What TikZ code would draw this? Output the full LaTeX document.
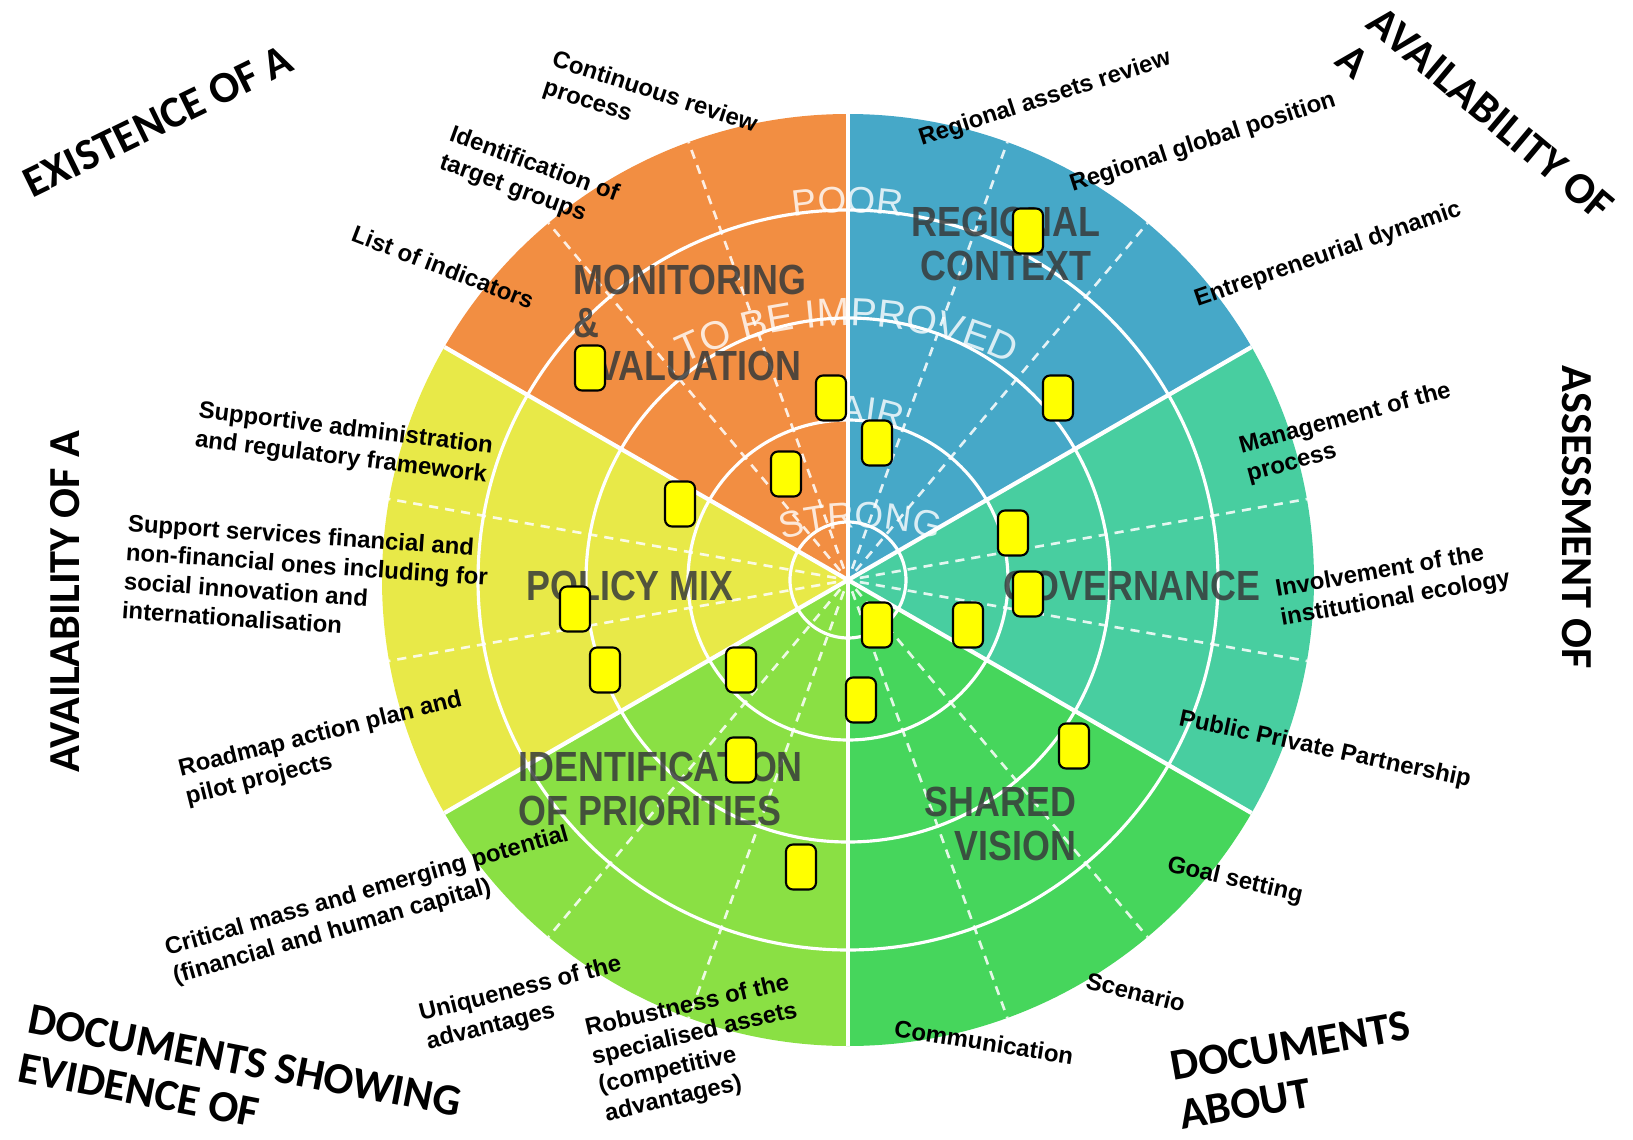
\documentclass[tikz,border=0pt]{standalone}
\usepackage{fontspec}
\setmainfont{Liberation Sans}
\newfontfamily\capsfont{Carlito}
\newfontfamily\pillarfont[FakeStretch=0.85]{Liberation Sans}
\usepackage{tikz}
\usetikzlibrary{decorations.text}

\definecolor{monOrange}{RGB}{242,142,66}
\definecolor{regBlue}{RGB}{70,168,200}
\definecolor{govTeal}{RGB}{72,206,160}
\definecolor{visGreen}{RGB}{70,214,92}
\definecolor{prioGreen}{RGB}{138,224,68}
\definecolor{polYellow}{RGB}{232,233,72}
\definecolor{scoreYellow}{RGB}{255,255,0}
\definecolor{pillarGray}{RGB}{55,58,58}

\tikzset{
  itemlbl/.style={font=\bfseries\fontsize{6.8}{8.3}\selectfont,inner sep=0pt,align=left},
  cornerlbl/.style={font=\capsfont\bfseries\fontsize{12.6}{14}\selectfont,inner sep=0pt,align=left},
  pillarlbl/.style={font=\pillarfont\bfseries\fontsize{12}{12.3}\selectfont,text=pillarGray,text opacity=0.85,inner sep=0pt},
  scorebox/.style={draw=black,line width=0.6pt,fill=scoreYellow,rounded corners=2pt,minimum width=0.3cm,minimum height=0.45cm,inner sep=0pt},
  ringline/.style={draw=white,line width=0.9pt},
  sectorline/.style={draw=white,line width=1.2pt},
  subline/.style={draw=white,line width=0.75pt,dash pattern=on 2.6pt off 2pt},
  ringword/.style={decorate,decoration={text along path,text align=center,text color=white,text={#1}}}
}

\begin{document}
\begin{tikzpicture}
      \useasboundingbox (0,0) rectangle (16.33,11.39);
      \coordinate (hub) at (8.48,5.59);
      \coordinate (bow) at (8.60,3.38);
      \coordinate (arch) at (8.47,4.39);

      \fill[monOrange] (hub) -- ++(90:4.66) arc[start angle=90,end angle=150,radius=4.66] -- cycle;
      \fill[polYellow] (hub) -- ++(150:4.66) arc[start angle=150,end angle=210,radius=4.66] -- cycle;
      \fill[prioGreen] (hub) -- ++(210:4.66) arc[start angle=210,end angle=270,radius=4.66] -- cycle;
      \fill[visGreen] (hub) -- ++(270:4.66) arc[start angle=270,end angle=330,radius=4.66] -- cycle;
      \fill[govTeal] (hub) -- ++(-30:4.66) arc[start angle=-30,end angle=30,radius=4.66] -- cycle;
      \fill[regBlue] (hub) -- ++(30:4.66) arc[start angle=30,end angle=90,radius=4.66] -- cycle;

      \begin{scope}[opacity=0.85]
        \draw[subline] (hub) ++(10:0.12) -- ++(10:4.54);    \draw[subline] (hub) ++(-10:0.12) -- ++(-10:4.54);
        \draw[subline] (hub) ++(50:0.12) -- ++(50:4.54);    \draw[subline] (hub) ++(70:0.12) -- ++(70:4.54);
        \draw[subline] (hub) ++(110:0.12) -- ++(110:4.54);  \draw[subline] (hub) ++(130:0.12) -- ++(130:4.54);
        \draw[subline] (hub) ++(170:0.12) -- ++(170:4.54);  \draw[subline] (hub) ++(190:0.12) -- ++(190:4.54);
        \draw[subline] (hub) ++(230:0.12) -- ++(230:4.54);  \draw[subline] (hub) ++(250:0.12) -- ++(250:4.54);
        \draw[subline] (hub) ++(290:0.12) -- ++(290:4.54);  \draw[subline] (hub) ++(310:0.12) -- ++(310:4.54);
      \end{scope}

      \draw[ringline] (hub) circle[radius=0.58];
      \draw[ringline] (hub) circle[radius=1.60];
      \draw[ringline] (hub) circle[radius=2.62];
      \draw[ringline] (hub) circle[radius=3.70];

      \draw[sectorline] (hub) -- ++(30:4.66);   \draw[sectorline] (hub) -- ++(90:4.66);
      \draw[sectorline] (hub) -- ++(150:4.66);  \draw[sectorline] (hub) -- ++(210:4.66);
      \draw[sectorline] (hub) -- ++(270:4.66);  \draw[sectorline] (hub) -- ++(330:4.66);

      \begin{scope}[opacity=0.8]
        \path[ringword={|\fontsize{10.5}{10.5}\selectfont|POOR}] ([shift={(110:3.67)}]hub) arc[start angle=110,end angle=70,radius=3.67];
        \path[ringword={|\fontsize{11.2}{11.2}\selectfont|TO BE IMPROVED}] ([shift={(125:3.74)}]arch) arc[start angle=125,end angle=55,radius=3.74];
        \path[ringword={|\fontsize{10.5}{10.5}\selectfont|FAIR}] ([shift={(126:1.58)}]hub) arc[start angle=126,end angle=46,radius=1.58];
        \path[ringword={|\fontsize{10.5}{10.5}\selectfont|STRONG}] ([shift={(112:2.73)}]bow) arc[start angle=112,end angle=68,radius=2.73];
      \end{scope}

      \node[pillarlbl,anchor=west,align=left] (monTitle) at (5.73,8.16) {MONITORING\\\&\\EVALUATION};
      \node[pillarlbl,align=center] (regTitle) at (10.06,8.95) {REGIONAL\\CONTEXT};
      \node[pillarlbl] (govTitle) at (11.32,5.53) {GOVERNANCE};
      \node[pillarlbl] (polTitle) at (6.30,5.53) {POLICY MIX};
      \node[pillarlbl,anchor=west,align=left] (prioTitle) at (5.18,3.50) {IDENTIFICATION\\OF PRIORITIES};
      \node[pillarlbl,anchor=east,align=right] (visTitle) at (10.77,3.15) {SHARED\\VISION};

      \begin{scope}[every node/.style=scorebox]
        \node (s1)  at (10.28,9.08) {};
        \node (s2)  at (5.90,7.71)  {};
        \node (s3)  at (8.31,7.41)  {};
        \node (s4)  at (10.58,7.41) {};
        \node (s5)  at (8.77,6.96)  {};
        \node (s6)  at (7.86,6.65)  {};
        \node (s7)  at (6.80,6.35)  {};
        \node (s8)  at (10.13,6.06) {};
        \node (s9)  at (5.75,5.30)  {};
        \node (s10) at (10.28,5.45) {};
        \node (s11) at (8.77,5.14)  {};
        \node (s12) at (9.68,5.14)  {};
        \node (s13) at (6.05,4.69)  {};
        \node (s14) at (7.41,4.69)  {};
        \node (s15) at (8.61,4.39)  {};
        \node (s16) at (10.74,3.93) {};
        \node (s17) at (7.41,3.79)  {};
        \node (s18) at (8.01,2.72)  {};
      \end{scope}

      \begin{scope}[every node/.style=itemlbl]
        \node[rotate=-18] (contRev)     at (6.50,10.32) {Continuous review\\process};
        \node[rotate=-20] (identTarget) at (5.29,9.60)  {Identification of\\target groups};
        \node[rotate=-21] (listInd)     at (4.43,8.72)  {List of indicators};
        \node[rotate=18]  (assetsRev)   at (10.45,10.40) {Regional assets review};
        \node[rotate=18]  (globalPos)   at (12.03,9.96) {Regional global position};
        \node[rotate=19]  (entrDyn)     at (13.28,8.84) {Entrepreneurial dynamic};
        \node[rotate=15]  (mgmtProc)    at (13.49,7.06) {Management of the\\process};
        \node[rotate=10]  (involve)     at (13.93,5.54) {Involvement of the\\institutional ecology};
        \node[rotate=-12] (ppp)         at (13.25,3.89) {Public Private Partnership};
        \node[rotate=-13] (goal)        at (12.35,2.58) {Goal setting};
        \node[rotate=-14] (scen)        at (11.36,1.47) {Scenario};
        \node[rotate=-9]  (comm)        at (9.84,0.97)  {Communication};
        \node[rotate=16]  (critMass)    at (3.71,2.33)  {Critical mass and emerging potential\\(financial and human capital)};
        \node[rotate=14]  (unique)      at (5.24,1.35)  {Uniqueness of the\\advantages};
        \node[rotate=13]  (robust)      at (6.98,0.90)  {Robustness of the\\specialised assets\\(competitive\\advantages)};
        \node[rotate=-7]  (suppAdmin)   at (3.44,6.95)  {Supportive administration\\and regulatory framework};
        \node[rotate=-4]  (suppServ)    at (3.06,5.60)  {Support services financial and\\non-financial ones including for\\social innovation and\\internationalisation};
        \node[rotate=14]  (roadmap)     at (3.24,3.90)  {Roadmap action plan and\\pilot projects};
      \end{scope}

      \begin{scope}[every node/.style=cornerlbl]
        \node[rotate=26]  (existA)    at (1.58,10.18) {EXISTENCE OF A};
        \node[rotate=-40] (availTR)   at (14.75,10.07) {AVAILABILITY OF\\A};
        \node[rotate=-90] (assessR)   at (15.77,6.22) {ASSESSMENT OF};
        \node[rotate=90]  (availL)    at (0.65,5.37)  {AVAILABILITY OF A};
        \node[rotate=-11] (docsEvid)  at (2.40,0.54)  {DOCUMENTS SHOWING\\EVIDENCE OF};
        \node[rotate=10]  (docsAbout) at (12.95,0.69) {DOCUMENTS\\ABOUT};
      \end{scope}
\end{tikzpicture}
\end{document}
